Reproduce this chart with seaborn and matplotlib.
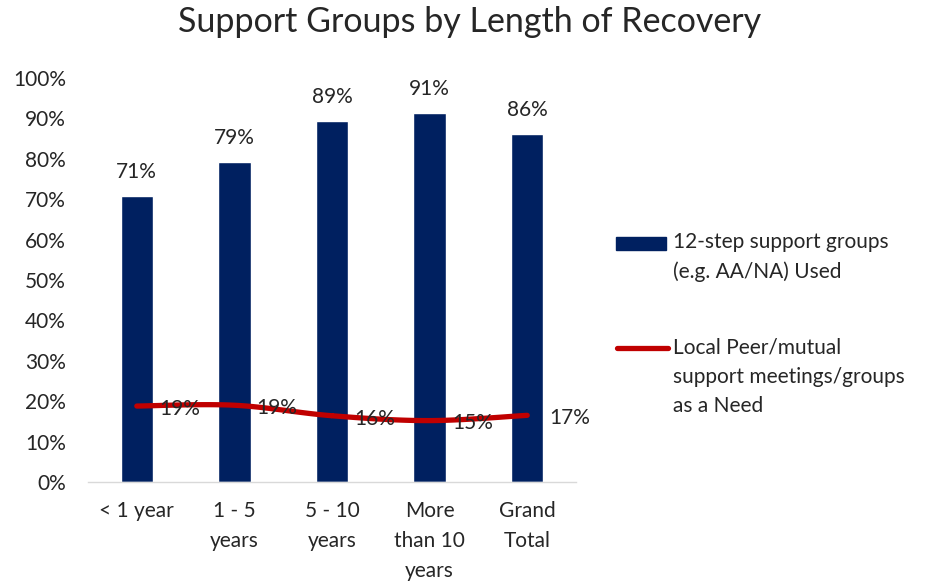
import numpy as np
import pandas as pd
import seaborn as sns
import matplotlib.pyplot as plt
from matplotlib.lines import Line2D
from matplotlib.patches import Rectangle

categories = ['< 1 year', '1 - 5\nyears', '5 - 10\nyears', 'More\nthan 10\nyears', 'Grand\nTotal']
used_12step = [0.709, 0.793, 0.894, 0.913, 0.862]
peer_need = [0.188, 0.19, 0.164, 0.152, 0.165]
bar_labels = ['71%', '79%', '89%', '91%', '86%']
line_labels = ['19%', '19%', '16%', '15%', '17%']
yticks = [0, 0.1, 0.2, 0.3, 0.4, 0.5, 0.6, 0.7, 0.8, 0.9, 1.0]
legend_labels = ['12-step support groups\n(e.g. AA/NA) Used',
                 'Local Peer/mutual\nsupport meetings/groups\nas a Need']

sns.set_style('white')
plt.rcParams['font.family'] = ['Lato', 'DejaVu Sans']

W, H = 929, 583
df = pd.DataFrame({'cat': categories, 'used': used_12step})

fig = plt.figure(figsize=(W / 100, H / 100), dpi=100)
ax = fig.add_axes([88 / W, 1 - 482 / H, (576 - 88) / W, (482 - 78) / H])

sns.barplot(data=df, x='cat', y='used', color='#002060', width=0.33, saturation=1, ax=ax)

# smoothed line (Catmull-Rom through the points, like Excel's smoothed line)
x = np.arange(len(peer_need), dtype=float)
y = np.array(peer_need)
px = np.concatenate([[x[0]], x, [x[-1]]])
py = np.concatenate([[y[0]], y, [y[-1]]])
xs, ys = [], []
for i in range(1, len(px) - 2):
    t = np.linspace(0, 1, 30)
    for arr, out in ((px, xs), (py, ys)):
        p0, p1, p2, p3 = arr[i - 1], arr[i], arr[i + 1], arr[i + 2]
        out.extend(0.5 * (2 * p1 + (-p0 + p2) * t + (2 * p0 - 5 * p1 + 4 * p2 - p3) * t ** 2
                          + (-p0 + 3 * p1 - 3 * p2 + p3) * t ** 3))
ax.plot(xs, ys, color='#C00000', lw=3.8, solid_capstyle='round', zorder=3)

for i, (v, lab) in enumerate(zip(used_12step, bar_labels)):
    ax.annotate(lab, (i, v), xytext=(0, 10), textcoords='offset points',
                ha='center', va='bottom', fontsize=15)
for i, (v, lab) in enumerate(zip(peer_need, line_labels)):
    ax.annotate(lab, (i, v), xytext=(16, -2), textcoords='offset points',
                ha='left', va='center', fontsize=15, zorder=4)

ax.set_xlim(-0.5, 4.5)
ax.set_ylim(0, 1)
ax.set_yticks(yticks)
ax.set_yticklabels([f'{int(round(t * 100))}%' for t in yticks], fontsize=15)
ax.set_xticklabels(categories, fontsize=15, linespacing=1.6)
ax.tick_params(axis='both', length=0)
ax.tick_params(axis='y', pad=16)
ax.tick_params(axis='x', pad=14)
ax.set_xlabel('')
ax.set_ylabel('')
for s in ['top', 'right', 'left']:
    ax.spines[s].set_visible(False)
ax.spines['bottom'].set_color('#D9D9D9')
ax.spines['bottom'].set_linewidth(1)

fig.text(470 / W, 1 - 22 / H, 'Support Groups by Length of Recovery', fontsize=24.5,
         ha='center', va='center')

# legend, drawn by hand so the keys line up with the first text line
fig.add_artist(Rectangle((616 / W, 1 - 250 / H), 50 / W, 13 / H, transform=fig.transFigure,
                         color='#002060'))
fig.add_artist(Line2D([617 / W, 668 / W], [1 - 348 / H, 1 - 348 / H], transform=fig.transFigure,
                      color='#C00000', lw=3.8, solid_capstyle='round'))
for ytop, lab in zip([232, 338], legend_labels):
    fig.text(673 / W, 1 - ytop / H, lab, fontsize=15, ha='left', va='top', linespacing=1.55)

fig.savefig('out.png', dpi=100)
